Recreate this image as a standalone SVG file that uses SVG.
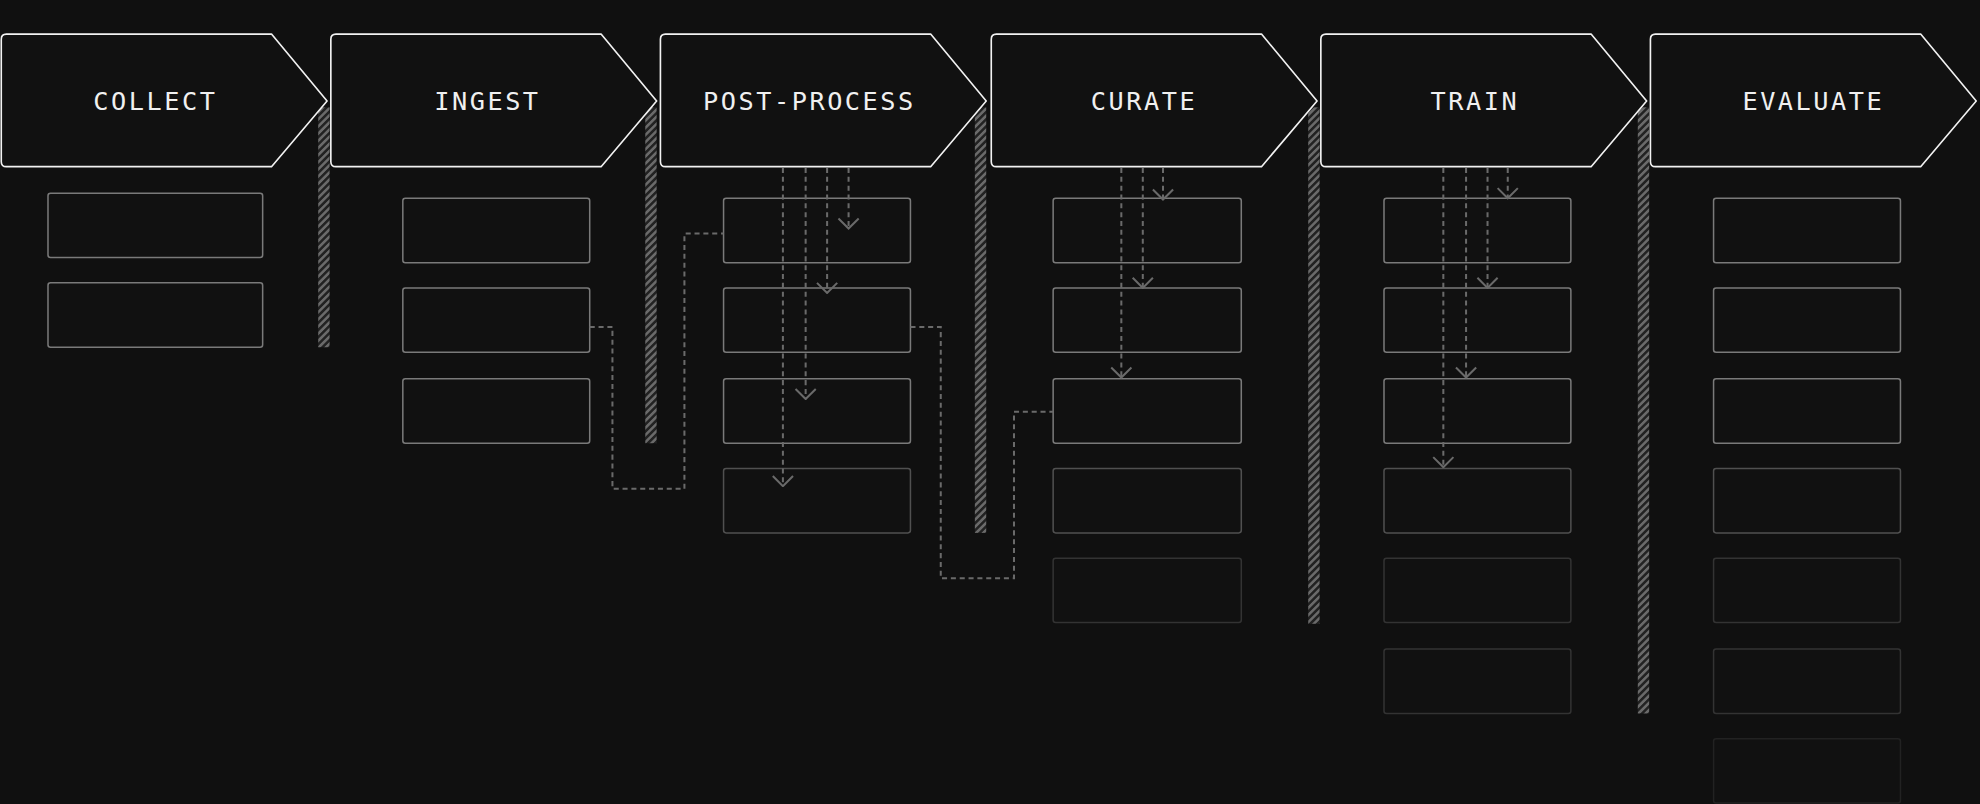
<svg xmlns="http://www.w3.org/2000/svg" width="1980" height="804" viewBox="0 0 1980 804">
<style>
.hdr{fill:#111;stroke:#f2f2f2;stroke-width:1.3;stroke-linejoin:round}
.lbl{font-family:"DejaVu Sans Mono","Liberation Mono",monospace;font-size:20px;fill:#f0f0f0;letter-spacing:2px;text-anchor:middle}
.b1{fill:#111;stroke:#7a7a7a;stroke-width:1.2}
.b2{fill:#111;stroke:#505050;stroke-width:1.2}
.b3{fill:#111;stroke:#333;stroke-width:1.2}
.b4{fill:#111;stroke:#222;stroke-width:1.2}
.c{fill:none;stroke:#6a6a6a;stroke-width:1.6;stroke-dasharray:4 3}
.ah{fill:none;stroke:#6a6a6a;stroke-width:1.6}
</style>
<defs>
<pattern id="h" patternUnits="userSpaceOnUse" width="4" height="4" patternTransform="rotate(45)">
<rect width="4" height="4" fill="#222"/><rect width="2" height="4" fill="#6a6a6a"/>
</pattern>
<marker id="a" viewBox="0 0 10 18" refX="9" refY="9" markerWidth="10" markerHeight="18" markerUnits="userSpaceOnUse" orient="auto">
<path d="M1 1 L9 9 L1 17" class="ah"/>
</marker>
<path id="chev" d="M4 0 H214 L258 53 L214 105 H4 Q0 105 0 101 V4 Q0 0 4 0 Z"/>
</defs>
<rect width="1980" height="804" fill="#101010"/>
<g transform="scale(1.26276)">
<g id="bars">
<rect x="252" y="85" width="9" height="190" fill="url(#h)"/>
<rect x="511" y="85" width="9" height="266" fill="url(#h)"/>
<rect x="772" y="85" width="9" height="337" fill="url(#h)"/>
<rect x="1036" y="85" width="9" height="409" fill="url(#h)"/>
<rect x="1297" y="85" width="9" height="480" fill="url(#h)"/>
</g>
<g id="collect"><use href="#chev" x="1" y="27" class="hdr"/><text x="123" y="87" class="lbl">COLLECT</text>
<rect x="38" y="153" width="170" height="51" rx="2" class="b1"/><rect x="38" y="224" width="170" height="51" rx="2" class="b1"/></g>
<g id="ingest"><use href="#chev" x="262" y="27" class="hdr"/><text x="386" y="87" class="lbl">INGEST</text>
<rect x="319" y="157" width="148" height="51" rx="2" class="b1"/><rect x="319" y="228" width="148" height="51" rx="2" class="b1"/><rect x="319" y="300" width="148" height="51" rx="2" class="b1"/></g>
<g id="postprocess"><use href="#chev" x="523" y="27" class="hdr"/><text x="641" y="87" class="lbl">POST-PROCESS</text>
<rect x="573" y="157" width="148" height="51" rx="2" class="b1"/><rect x="573" y="228" width="148" height="51" rx="2" class="b1"/><rect x="573" y="300" width="148" height="51" rx="2" class="b1"/><rect x="573" y="371" width="148" height="51" rx="2" class="b2"/></g>
<g id="curate"><use href="#chev" x="785" y="27" class="hdr"/><text x="906" y="87" class="lbl">CURATE</text>
<rect x="834" y="157" width="149" height="51" rx="2" class="b1"/><rect x="834" y="228" width="149" height="51" rx="2" class="b1"/><rect x="834" y="300" width="149" height="51" rx="2" class="b1"/><rect x="834" y="371" width="149" height="51" rx="2" class="b2"/><rect x="834" y="442" width="149" height="51" rx="2" class="b3"/></g>
<g id="train"><use href="#chev" x="1046" y="27" class="hdr"/><text x="1168" y="87" class="lbl">TRAIN</text>
<rect x="1096" y="157" width="148" height="51" rx="2" class="b1"/><rect x="1096" y="228" width="148" height="51" rx="2" class="b1"/><rect x="1096" y="300" width="148" height="51" rx="2" class="b1"/><rect x="1096" y="371" width="148" height="51" rx="2" class="b2"/><rect x="1096" y="442" width="148" height="51" rx="2" class="b3"/><rect x="1096" y="514" width="148" height="51" rx="2" class="b3"/></g>
<g id="evaluate"><use href="#chev" x="1307" y="27" class="hdr"/><text x="1436" y="87" class="lbl">EVALUATE</text>
<rect x="1357" y="157" width="148" height="51" rx="2" class="b1"/><rect x="1357" y="228" width="148" height="51" rx="2" class="b1"/><rect x="1357" y="300" width="148" height="51" rx="2" class="b1"/><rect x="1357" y="371" width="148" height="51" rx="2" class="b2"/><rect x="1357" y="442" width="148" height="51" rx="2" class="b3"/><rect x="1357" y="514" width="148" height="51" rx="2" class="b3"/><rect x="1357" y="585" width="148" height="51" rx="2" class="b4"/></g>
<g id="connectors">
<path class="c" d="M467 259 H485 V387 H542 V185 H573"/>
<path class="c" d="M721 259 H745 V458 H803 V326 H834"/>
<path class="c" d="M620 133 V385" marker-end="url(#a)"/>
<path class="c" d="M638 133 V316" marker-end="url(#a)"/>
<path class="c" d="M655 133 V232" marker-end="url(#a)"/>
<path class="c" d="M672 133 V181" marker-end="url(#a)"/>
<path class="c" d="M888 133 V299" marker-end="url(#a)"/>
<path class="c" d="M905 133 V228" marker-end="url(#a)"/>
<path class="c" d="M921 133 V158" marker-end="url(#a)"/>
<path class="c" d="M1143 133 V370" marker-end="url(#a)"/>
<path class="c" d="M1161 133 V299" marker-end="url(#a)"/>
<path class="c" d="M1178 133 V228" marker-end="url(#a)"/>
<path class="c" d="M1194 133 V157" marker-end="url(#a)"/>
</g>
</g>
</svg>
